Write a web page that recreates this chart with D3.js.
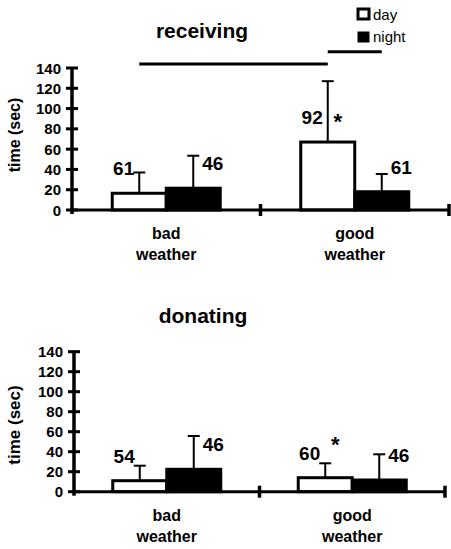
<!DOCTYPE html>
<html>
<head>
<meta charset="utf-8">
<script src="https://d3js.org/d3.v7.min.js"></script>
<style>
  body { margin: 0; background: #fff; }
  text { font-family: "Liberation Sans", Arial, sans-serif; fill: #000; }
</style>
</head>
<body>
<div id="chart"></div>
<script>
// categories and series
const groups = ["bad weather", "good weather"];
const series = ["day", "night"];
const yTicks = [0, 20, 40, 60, 80, 100, 120, 140];

// receiving: mean time (sec), upper error, sample size
const recDay = [16.5, 67];
const recNight = [21.5, 18];
const recDayErr = [20.5, 60];
const recNightErr = [32, 17.5];
const recDayN = [61, 92];
const recNightN = [46, 61];

// donating
const donDay = [11, 14];
const donNight = [22.4, 11.7];
const donDayErr = [15, 14.4];
const donNightErr = [33.3, 25.7];
const donDayN = [54, 60];
const donNightN = [46, 46];

const W = 451, H = 549;
const svg = d3.select("#chart").append("svg")
  .attr("width", W).attr("height", H);

function drawPanel(p) {
  const g = svg.append("g");
  const y = d3.scaleLinear().domain([0, 140]).range([p.y0, p.y1]);
  const x = d3.scaleBand().domain(groups).range([p.x0, p.x1]);
  const sub = d3.scaleBand().domain(series).range([-54, 54]);

  // one row per bar
  const rows = [];
  groups.forEach((grp, i) => {
    rows.push({grp: grp, s: "day", v: p.day[i], e: p.dayErr[i], n: p.dayN[i]});
    rows.push({grp: grp, s: "night", v: p.night[i], e: p.nightErr[i], n: p.nightN[i]});
  });
  const cx = d => x(d.grp) + x.bandwidth() / 2 + sub(d.s) + sub.bandwidth() / 2;

  // title
  g.append("text")
    .attr("x", p.titleX).attr("y", p.titleY)
    .attr("text-anchor", "middle")
    .style("font-size", "21px").style("font-weight", "bold")
    .text(p.title);

  // y axis label
  g.append("text")
    .attr("transform", "translate(20," + p.labelY + ") rotate(-90)")
    .attr("text-anchor", "middle")
    .style("font-size", p.labelSize).style("font-weight", "bold")
    .text("time (sec)");

  // error bars (upper only)
  const eb = g.append("g").attr("stroke", "#000").attr("stroke-width", 2);
  eb.selectAll("line.w").data(rows).join("line").attr("class", "w")
    .attr("x1", cx).attr("x2", cx)
    .attr("y1", d => y(d.v)).attr("y2", d => y(d.v + d.e));
  eb.selectAll("line.c").data(rows).join("line").attr("class", "c")
    .attr("x1", d => cx(d) - 6).attr("x2", d => cx(d) + 6)
    .attr("y1", d => y(d.v + d.e)).attr("y2", d => y(d.v + d.e));

  // bars
  g.selectAll("rect.bar").data(rows).join("rect")
    .attr("class", "bar")
    .attr("x", d => x(d.grp) + x.bandwidth() / 2 + sub(d.s))
    .attr("width", sub.bandwidth())
    .attr("y", d => y(d.v))
    .attr("height", d => y(0) - y(d.v))
    .attr("fill", d => d.s === "day" ? "#fff" : "#000")
    .attr("stroke", "#000").attr("stroke-width", 3);

  // sample size labels
  g.selectAll("text.n").data(rows).join("text")
    .attr("class", "n")
    .attr("x", d => d.s === "day" ? cx(d) - 5 : cx(d) + 9)
    .attr("y", d => y(d.v) - 18)
    .attr("text-anchor", d => d.s === "day" ? "end" : "start")
    .style("font-size", "19px").style("font-weight", "bold")
    .text(d => d.n);

  // significance star
  g.append("text")
    .attr("x", cx(rows[2]) + 10).attr("y", y(p.starAt) + 9)
    .attr("text-anchor", "middle")
    .style("font-size", "22px").style("font-weight", "bold")
    .text("*");

  // y axis
  const ax = g.append("g").attr("stroke", "#000");
  ax.append("line")
    .attr("x1", p.x0).attr("x2", p.x0)
    .attr("y1", y(140) - 1).attr("y2", y(0) + 4)
    .attr("stroke-width", 3.5);
  ax.selectAll("line.t").data(yTicks).join("line").attr("class", "t")
    .attr("x1", p.x0 - 6).attr("x2", p.x0 + 6)
    .attr("y1", d => y(d)).attr("y2", d => y(d))
    .attr("stroke-width", 3);
  g.selectAll("text.tick").data(yTicks).join("text")
    .attr("class", "tick")
    .attr("x", p.x0 - 11).attr("y", d => y(d) + 5.5)
    .attr("text-anchor", "end")
    .style("font-size", "15px").style("font-weight", "bold")
    .text(d => d);

  // x axis with break ticks
  ax.append("line")
    .attr("x1", p.x0).attr("x2", p.x1)
    .attr("y1", y(0)).attr("y2", y(0))
    .attr("stroke-width", 3);
  ax.selectAll("line.xt").data([x(groups[1]), p.x1]).join("line").attr("class", "xt")
    .attr("x1", d => d).attr("x2", d => d)
    .attr("y1", y(0) - 6).attr("y2", y(0) + 6)
    .attr("stroke-width", 3.5);

  // category labels
  const cl = g.selectAll("text.cat").data(groups).join("text")
    .attr("class", "cat")
    .attr("text-anchor", "middle")
    .style("font-size", "16px").style("font-weight", "bold");
  cl.append("tspan")
    .attr("x", d => x(d) + x.bandwidth() / 2).attr("y", y(0) + 29)
    .text(d => d.split(" ")[0]);
  cl.append("tspan")
    .attr("x", d => x(d) + x.bandwidth() / 2).attr("y", y(0) + 50)
    .text(d => d.split(" ")[1]);

  return {x: x, y: y, cx: cx, rows: rows, g: g};
}

const recPanel = drawPanel({
  title: "receiving", titleX: 202, titleY: 38,
  labelY: 135, labelSize: "16px",
  x0: 72, x1: 449, y0: 210, y1: 68,
  day: recDay, night: recNight, dayErr: recDayErr, nightErr: recNightErr,
  dayN: recDayN, nightN: recNightN, starAt: 89
});

drawPanel({
  title: "donating", titleX: 203, titleY: 323,
  labelY: 425, labelSize: "17px",
  x0: 74, x1: 445, y0: 491.7, y1: 351.7,
  day: donDay, night: donNight, dayErr: donDayErr, nightErr: donNightErr,
  dayN: donDayN, nightN: donNightN, starAt: 49
});

// significance lines (receiving)
const sig = [
  {a: 0, b: 2, at: 144},
  {a: 2, b: 3, at: 156}
];
recPanel.g.selectAll("line.sig").data(sig).join("line")
  .attr("class", "sig")
  .attr("x1", d => recPanel.cx(recPanel.rows[d.a])).attr("x2", d => recPanel.cx(recPanel.rows[d.b]))
  .attr("y1", d => recPanel.y(d.at)).attr("y2", d => recPanel.y(d.at))
  .attr("stroke", "#000").attr("stroke-width", 3);

// legend
const leg = svg.append("g");
series.forEach((s, i) => {
  leg.append("rect")
    .attr("x", 358).attr("y", 9 + i * 23)
    .attr("width", 11).attr("height", 10)
    .attr("fill", s === "day" ? "#fff" : "#000")
    .attr("stroke", "#000").attr("stroke-width", s === "day" ? 3 : 1);
  leg.append("text")
    .attr("x", 373).attr("y", 20 + i * 22)
    .style("font-size", "15px")
    .text(s);
});
</script>
</body>
</html>
